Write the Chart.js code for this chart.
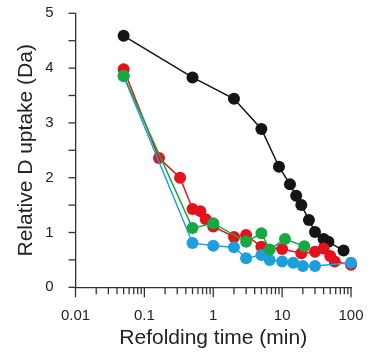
<!DOCTYPE html>
<html>
<head>
<meta charset="utf-8">
<script src="https://cdn.jsdelivr.net/npm/chart.js@4"></script>
<style>
html,body{margin:0;padding:0;background:#fff;}
#wrap{width:370px;height:354px;}
</style>
</head>
<body>
<div id="wrap"><canvas id="c" width="370" height="354"></canvas></div>
<script>
const blackX = [0.05, 0.5, 2, 5, 9, 13, 16, 19, 24.5, 30, 40, 47, 78];
const blackY = [4.59, 3.83, 3.44, 2.89, 2.20, 1.88, 1.67, 1.50, 1.23, 1.01, 0.88, 0.83, 0.67];
const redX = [0.05, 0.163, 0.33, 0.5, 0.65, 0.78, 1, 2, 3, 5, 10, 19, 30, 40, 50, 58, 100];
const redY = [3.98, 2.36, 2.00, 1.43, 1.39, 1.24, 1.11, 0.92, 0.955, 0.74, 0.70, 0.62, 0.65, 0.71, 0.57, 0.47, 0.41];
const greenX = [0.05, 0.5, 1, 3, 5, 6.6, 11, 21];
const greenY = [3.86, 1.08, 1.17, 0.83, 0.985, 0.69, 0.88, 0.75];
const blueX = [0.05, 0.5, 1, 2, 3, 5, 6.6, 10, 14.5, 20, 30, 100];
const blueY = [3.85, 0.81, 0.76, 0.73, 0.53, 0.59, 0.50, 0.47, 0.45, 0.39, 0.39, 0.45];
const xTickLabels = [0.01, 0.1, 1, 10, 100];
const yTickLabels = [0, 1, 2, 3, 4, 5];

const FONT = "'Liberation Sans', Arial, sans-serif";
const pts = (xs, ys) => xs.map((x, i) => ({x: x, y: ys[i]}));
const ds = (label, xs, ys, color, order) => ({
  label, data: pts(xs, ys), borderColor: color, backgroundColor: color,
  pointBackgroundColor: color, pointBorderColor: color, pointRadius: 6, pointBorderWidth: 0,
  borderWidth: 1.5, showLine: true, clip: false, order
});
const noPad = (scale) => { scale.paddingTop = 0; scale.paddingBottom = 0; scale.paddingLeft = 0; scale.paddingRight = 0; };

const tickPlugin = {
  id: 'ticks',
  afterDraw(chart) {
    const ctx = chart.ctx;
    const xs = chart.scales.x, ys = chart.scales.y;
    ctx.save();
    ctx.strokeStyle = '#333';
    ctx.lineWidth = 1.3;
    const by = ys.getPixelForValue(0);
    const ax = xs.getPixelForValue(0.01);
    for (let e = -2; e <= 2; e++) {
      for (let m = 1; m <= 9; m++) {
        const v = m * Math.pow(10, e);
        if (v > 100.0001) continue;
        const px = xs.getPixelForValue(v);
        const len = (m === 1) ? 10 : 7;
        ctx.beginPath(); ctx.moveTo(px, by); ctx.lineTo(px, by + len); ctx.stroke();
      }
    }
    for (let v = 0; v <= 5.0001; v += 0.5) {
      const py = ys.getPixelForValue(v);
      ctx.beginPath(); ctx.moveTo(ax - 7, py); ctx.lineTo(ax, py); ctx.stroke();
    }
    ctx.restore();
  }
};

new Chart(document.getElementById('c'), {
  type: 'scatter',
  data: { datasets: [
    ds('green', greenX, greenY, '#18a843', 0),
    ds('blue', blueX, blueY, '#1f9edc', 1),
    ds('red', redX, redY, '#e3121b', 2),
    ds('black', blackX, blackY, '#141414', 3)
  ]},
  options: {
    responsive: false, animation: false,
    layout: { padding: { left: 0, right: 19, top: 13.3, bottom: 0 } },
    plugins: { legend: { display: false }, tooltip: { enabled: false } },
    scales: {
      x: {
        type: 'logarithmic', min: 0.01, max: 100,
        grid: { display: false, drawTicks: false },
        border: { display: true, color: '#333', width: 1.3 },
        afterBuildTicks(scale) { scale.ticks = xTickLabels.map(v => ({value: v})); },
        ticks: { autoSkip: false, maxRotation: 0, padding: 20, color: '#222',
          font: { family: FONT, size: 15 },
          callback: (v) => String(v) },
        title: { display: true, text: 'Refolding time (min)', color: '#222',
          font: { family: FONT, size: 21 }, padding: { top: 0, bottom: 3 } },
        afterFit(scale) { scale.height = 66.7; noPad(scale); }
      },
      y: {
        min: 0, max: 5,
        grid: { display: false, drawTicks: false },
        border: { display: true, color: '#333', width: 1.3 },
        afterBuildTicks(scale) { scale.ticks = yTickLabels.map(v => ({value: v})); },
        ticks: { padding: 22, color: '#222', font: { family: FONT, size: 15 } },
        title: { display: true, text: 'Relative D uptake (Da)', color: '#222',
          font: { family: FONT, size: 21 }, padding: { top: 14, bottom: 0 } },
        afterFit(scale) { scale.width = 75.5; noPad(scale); }
      }
    }
  },
  plugins: [tickPlugin]
});
</script>
</body>
</html>
